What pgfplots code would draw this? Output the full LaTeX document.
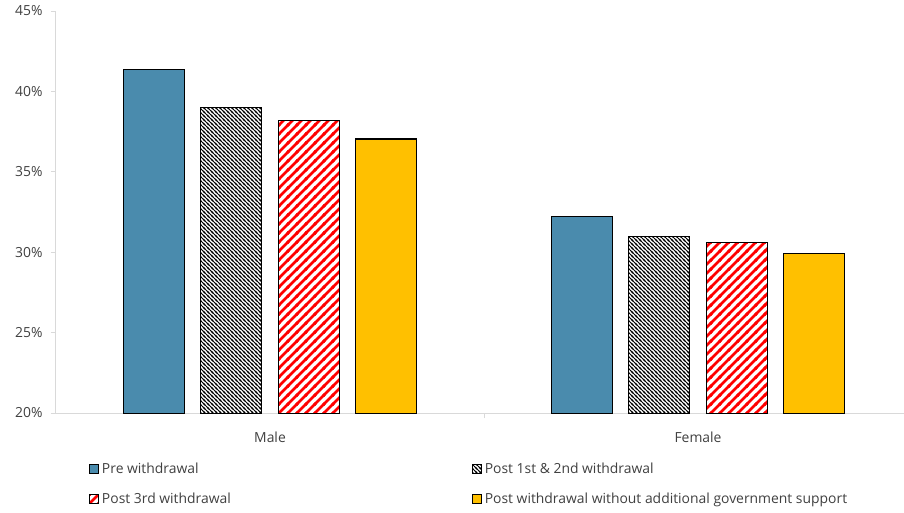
\documentclass[border=0pt]{standalone}
\usepackage{pgfplots}
\pgfplotsset{compat=1.18}
\usepackage{fontspec}
\setmainfont{Open Sans}
\usetikzlibrary{patterns}
\definecolor{preblue}{HTML}{4A8BAD}
\definecolor{govyellow}{HTML}{FFC000}
\definecolor{axgray}{HTML}{D9D9D9}
\definecolor{txt}{HTML}{404040}
\pgfdeclarepatternformonly{redstripes}{\pgfqpoint{-1pt}{-1pt}}{\pgfqpoint{10pt}{10pt}}{\pgfqpoint{9pt}{9pt}}{%
  \pgfsetlinewidth{2.6pt}%
  \pgfpathmoveto{\pgfqpoint{-1pt}{-1pt}}\pgfpathlineto{\pgfqpoint{10pt}{10pt}}%
  \pgfpathmoveto{\pgfqpoint{-1pt}{8pt}}\pgfpathlineto{\pgfqpoint{1pt}{10pt}}%
  \pgfpathmoveto{\pgfqpoint{8pt}{-1pt}}\pgfpathlineto{\pgfqpoint{10pt}{1pt}}%
  \pgfusepath{stroke}}
\pgfdeclarepatternformonly{blackhatch}{\pgfqpoint{-1pt}{-1pt}}{\pgfqpoint{5pt}{5pt}}{\pgfqpoint{4pt}{4pt}}{%
  \pgfsetlinewidth{0.9pt}%
  \pgfpathmoveto{\pgfqpoint{-1pt}{5pt}}\pgfpathlineto{\pgfqpoint{5pt}{-1pt}}%
  \pgfpathmoveto{\pgfqpoint{-1pt}{1pt}}\pgfpathlineto{\pgfqpoint{1pt}{-1pt}}%
  \pgfpathmoveto{\pgfqpoint{3pt}{5pt}}\pgfpathlineto{\pgfqpoint{5pt}{3pt}}%
  \pgfusepath{stroke}}
\pgfplotsset{
  mybar/.style={ybar, bar width=0.1425, draw=black, line width=1pt,
    legend image code/.code={\draw[##1,/tikz/.cd,line width=0.8pt] (0pt,-4.5pt) rectangle (9pt,4.5pt);}},
}
\begin{document}
\begin{tikzpicture}
\begin{axis}[
  name=ax,
  scale only axis, width=848pt, height=402pt,
  xmin=-0.5, xmax=1.4813, ymin=20, ymax=45,
  ytick={20,25,30,35,40,45},
  yticklabel={\pgfmathprintnumber{\tick}\%},
  /pgf/number format/assume math mode=true,
  xtick={0.5}, xticklabels={},
  extra x ticks={0,1}, extra x tick labels={Male,Female},
  extra x tick style={major tick length=0pt},
  axis x line*=bottom, axis y line*=left,
  axis line style={axgray, line width=1pt},
  tick style={axgray, line width=1pt},
  tick align=outside,
  major tick length=5pt,
  every tick label/.append style={font=\fontsize{13.9}{16}\selectfont, text=txt},
  yticklabel style={xshift=-5pt},
  xticklabel style={yshift=-15pt},
  legend columns=2,
  legend style={draw=none, fill=none, at={(axis description cs:0,0)}, anchor=north west,
    xshift=30pt, yshift=-45pt, row sep=12pt,
    font=\fontsize{13.9}{16}\selectfont, text=txt,
    nodes={inner sep=3pt}},
  legend cell align=left,
  clip=true,
]
\addplot[mybar, bar shift=-0.272, fill=preblue] coordinates {(0,41.39) (1,32.19)};
\addlegendentry{\makebox[367pt][l]{Pre withdrawal}}
\addplot[mybar, bar shift=-0.091, pattern=blackhatch, pattern color=black] coordinates {(0,39.03) (1,30.95)};
\addlegendentry{Post 1st \& 2nd withdrawal}
\addplot[mybar, bar shift=0.090, pattern=redstripes, pattern color=red] coordinates {(0,38.16) (1,30.63)};
\addlegendentry{\makebox[367pt][l]{Post 3rd withdrawal}}
\addplot[mybar, bar shift=0.271, fill=govyellow] coordinates {(0,37.04) (1,29.95)};
\addlegendentry{Post withdrawal without additional government support}
\end{axis}
\pgfresetboundingbox
\path (ax.south west) ++(-56pt,-99pt) rectangle ++(904pt,512pt);
\end{tikzpicture}
\end{document}
